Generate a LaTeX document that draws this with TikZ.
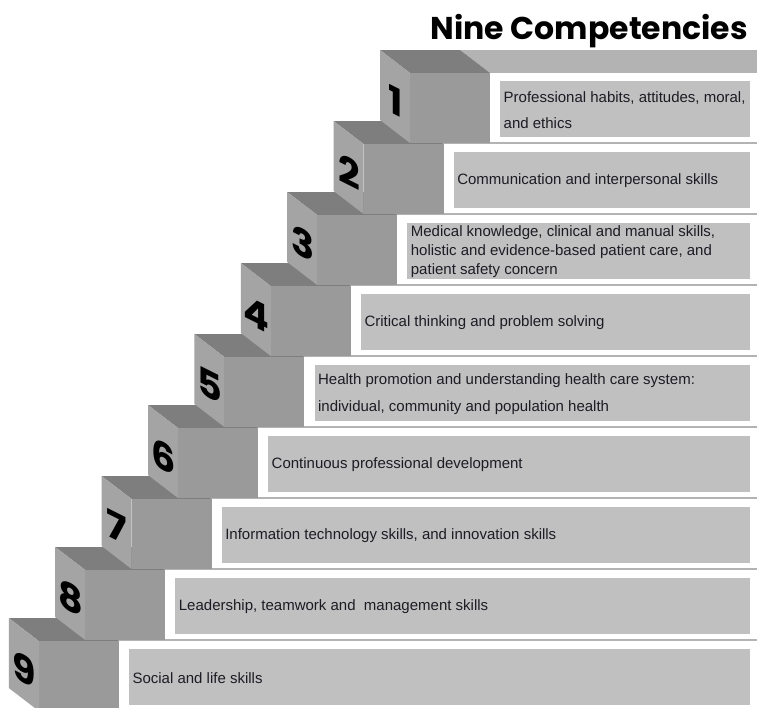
\documentclass[tikz,border=0pt]{standalone}
\usepackage{fontspec}
\setmainfont{Liberation Sans}
\newfontfamily\titlefont{Poppins}
\usetikzlibrary{calc}
\definecolor{topf}{HTML}{7E7E7E}
\definecolor{leftf}{HTML}{A4A4A4}
\definecolor{frontf}{HTML}{9A9A9A}
\definecolor{stripc}{HTML}{B3B3B3}
\definecolor{labc}{HTML}{C0C0C0}
\definecolor{txtc}{HTML}{1C1C24}
\tikzset{
  labbox/.style={fill=labc, draw=none, inner sep=0pt, anchor=north west, minimum height=56pt},
  labtxt/.style={anchor=west, align=left, inner sep=0pt, text=txtc},
  digit/.style={font=\titlefont\bfseries\fontsize{38}{38}\selectfont, text=black, inner sep=0pt, transform shape},
}
\begin{document}
\begin{tikzpicture}[x=1pt,y=-1pt]
\useasboundingbox (0,0) rectangle (757,707);
\clip (0,0) rectangle (757,707);
\fill[white] (0,0) rectangle (757,707);
\node[anchor=base east, inner sep=0pt, font=\titlefont\bfseries\fontsize{31.5}{31.5}\selectfont] (title) at (748,39) {Nine Competencies};
\foreach \k/\ls/\txt in {
 9/18/{Social and life skills},
 8/18/{Leadership, teamwork and\ \ management skills},
 7/18/{Information technology skills, and innovation skills},
 6/18/{Continuous professional development},
 5/27/{Health promotion and understanding health care system:\\individual, community and population health},
 4/18/{Critical thinking and problem solving},
 3/19/{Medical knowledge, clinical and manual skills,\\holistic and evidence-based patient care, and\\patient safety concern},
 2/18/{Communication and interpersonal skills},
 1/26/{Professional habits, attitudes, moral,\\and ethics}}{
  \pgfmathsetmacro\sx{-46.4*(\k-1)}
  \pgfmathsetmacro\sy{71*(\k-1)}
  \pgfmathsetmacro\bw{250-\sx}
  \pgfmathsetmacro\xr{800-\sx}
  \begin{scope}[shift={(\sx,\sy)}]
    % top strip extending right
    \fill[stripc] (460,50) -- (\xr,50) -- (\xr,73) -- (490,73) -- cycle;
    % white panel
    \fill[white] (490,73) rectangle (\xr,142);
    % cube faces
    \fill[topf] (380,50) -- (460,50) -- (490,73) -- (410,73) -- cycle;
    \fill[leftf] (380,50) -- (410,73) -- (410,143) -- (380,120) -- cycle;
    \fill[frontf] (410,73) rectangle (490,143);
    % label
    \node[labbox, minimum width=\bw pt] (lab\k) at (500,80.5) {};
    \node[labtxt, font=\fontsize{15}{\ls}\selectfont] (txt\k) at ($(lab\k.west)+(3.5,1)$) {\txt};
    % digit on left face
    \begin{scope}[shift={(395.5,101)}, cm={1.0,-0.5,0,1,(0,0)}]
      \node[digit] (num\k) at (0,0) {\k};
    \end{scope}
  \end{scope}
}
\end{tikzpicture}
\end{document}
